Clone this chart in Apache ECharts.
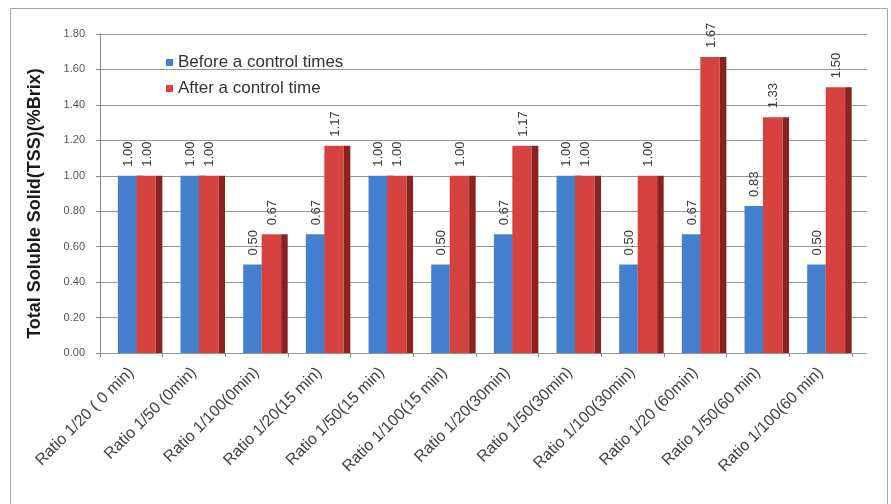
<!DOCTYPE html>
<html>
<head>
<meta charset="utf-8">
<script src="https://cdn.jsdelivr.net/npm/echarts@6/dist/echarts.min.js"></script>
<style>
  html, body { margin: 0; padding: 0; background: #ffffff; }
  #chart { width: 891px; height: 504px; }
</style>
</head>
<body>
<div id="chart"></div>
<script>
// Sample groups: dilution ratio and holding time
const categories = [
  'Ratio 1/20 ( 0 min)', 'Ratio 1/50 (0min)', 'Ratio 1/100(0min)',
  'Ratio 1/20(15 min)', 'Ratio 1/50(15 min)', 'Ratio 1/100(15 min)',
  'Ratio 1/20(30min)', 'Ratio 1/50(30min)', 'Ratio 1/100(30min)',
  'Ratio 1/20 (60min)', 'Ratio 1/50(60 min)', 'Ratio 1/100(60 min)'
];

// Total soluble solid (%Brix)
const beforeValues = [1.00, 1.00, 0.50, 0.67, 1.00, 0.50, 0.67, 1.00, 0.50, 0.67, 0.83, 0.50];
const afterValues  = [1.00, 1.00, 0.67, 1.17, 1.00, 1.00, 1.17, 1.00, 1.00, 1.67, 1.33, 1.50];

const seriesNames = ['Before a control times', 'After a control time'];

// Value axis range and step
const yMin = 0;
const yMax = 1.8;
const yStep = 0.2;

const FONT = "'Liberation Sans', Arial, sans-serif";

// Column with a shaded right-hand side face, placed inside its category band.
// Offsets are fractions of the band width measured from the band centre.
function makeColumn(faceFrom, faceTo, sideTo, faceColor, sideColor) {
  return function (params, api) {
    const idx = api.value(0);
    const val = api.value(1);
    const base = api.coord([idx, 0]);
    const top = api.coord([idx, val]);
    const band = api.size([1, 0])[0];
    const x0 = base[0] + band * faceFrom;
    const x1 = base[0] + band * faceTo;
    const xs = base[0] + band * sideTo;
    const h = base[1] - top[1];
    return {
      type: 'group',
      children: [
        { type: 'rect', shape: { x: x1, y: top[1], width: xs - x1, height: h },
          style: { fill: sideColor } },
        { type: 'rect', shape: { x: x0, y: top[1], width: x1 - x0, height: h },
          style: { fill: faceColor } },
        { type: 'text', x: (x0 + x1) / 2 + 1, y: top[1] - 9, rotation: Math.PI / 2,
          style: { text: val.toFixed(2), fill: '#3a3a3a', font: '13px ' + FONT,
                   align: 'left', verticalAlign: 'middle' } }
      ]
    };
  };
}

const chart = echarts.init(document.getElementById('chart'), null, { renderer: 'canvas' });

chart.setOption({
  backgroundColor: '#ffffff',
  animation: false,
  graphic: [{
    type: 'rect',
    shape: { x: 10.5, y: 8.5, width: 877, height: 500 },
    style: { fill: 'none', stroke: '#a8a8a8', lineWidth: 1 },
    silent: true
  }],
  legend: {
    orient: 'vertical',
    left: 161,
    top: 49,
    itemWidth: 7,
    itemHeight: 7,
    itemGap: 9,
    icon: 'rect',
    textStyle: { fontFamily: FONT, fontSize: 17, color: '#333333' },
    data: seriesNames
  },
  grid: [
    // back wall: gridlines run a little further right than the category floor
    { left: 100, right: 24, top: 34, bottom: 151 },
    { left: 100, right: 39, top: 34, bottom: 151 }
  ],
  xAxis: [
    { gridIndex: 0, type: 'category', data: categories, show: false },
    {
      gridIndex: 1,
      type: 'category',
      data: categories,
      axisLine: { show: false },
      axisTick: { show: true, length: 4, lineStyle: { color: '#8a8a8a' } },
      axisLabel: {
        rotate: 45, margin: 17, interval: 0,
        fontFamily: FONT, fontSize: 16, color: '#404040'
      }
    }
  ],
  yAxis: [
    {
      gridIndex: 0, type: 'value', min: yMin, max: yMax, interval: yStep,
      axisLine: { show: false }, axisTick: { show: false }, axisLabel: { show: false },
      splitLine: { show: true, lineStyle: { color: '#969696', width: 1 } }
    },
    {
      gridIndex: 1, type: 'value', min: yMin, max: yMax, interval: yStep,
      name: 'Total Soluble Solid(TSS)(%Brix)',
      nameLocation: 'middle',
      nameGap: 56,
      nameTextStyle: {
        fontFamily: FONT, fontSize: 18, fontWeight: 'bold', color: '#1a1a1a',
        padding: [0, 20, 0, 0]
      },
      axisLine: { show: true, lineStyle: { color: '#8a8a8a' } },
      axisTick: { show: true, length: 4, lineStyle: { color: '#8a8a8a' } },
      axisLabel: {
        margin: 15, fontFamily: FONT, fontSize: 11, color: '#555555',
        formatter: v => v.toFixed(2)
      },
      splitLine: { show: false }
    }
  ],
  series: [
    {
      name: seriesNames[0],
      type: 'custom',
      xAxisIndex: 1, yAxisIndex: 1,
      itemStyle: { color: '#4580cf' },
      renderItem: makeColumn(-0.215, 0.08, 0.185, '#4580cf', '#2c5a96'),
      encode: { x: 0, y: 1 },
      data: beforeValues.map((v, i) => [i, v])
    },
    {
      name: seriesNames[1],
      type: 'custom',
      xAxisIndex: 1, yAxisIndex: 1,
      itemStyle: { color: '#d6423f' },
      renderItem: makeColumn(0.08, 0.39, 0.495, '#d6423f', '#8a2222'),
      encode: { x: 0, y: 1 },
      data: afterValues.map((v, i) => [i, v])
    }
  ]
});
</script>
</body>
</html>
